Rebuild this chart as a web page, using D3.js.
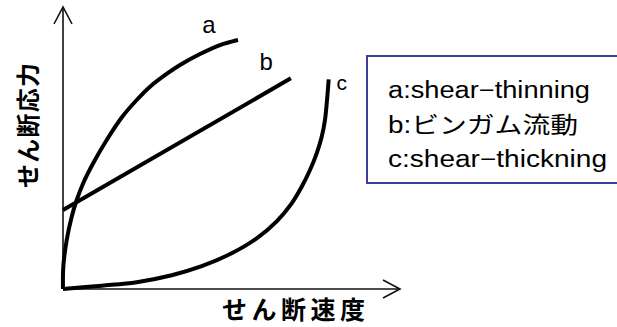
<!DOCTYPE html>
<html><head><meta charset="utf-8">
<script src="https://cdn.jsdelivr.net/npm/d3@7"></script>
<style>html,body{margin:0;padding:0;background:#fff;}svg{display:block;}</style>
</head><body>
<svg id="chart" width="617" height="327"></svg>
<script>
// Data (arbitrary units: shear rate 0..100, shear stress 0..100)
const seriesNames = ["a", "b", "c"];
const curveA_x = [0, 0.09, 1.10, 2.58, 4.07, 6.02, 8.99, 12.97, 17.42, 21.87, 25.82, 31.16, 34.72, 40.65, 46.59, 51.93];
const curveA_y = [0, 7.91, 17.38, 25.64, 31.56, 37.59, 44.68, 52.84, 60.82, 67.02, 71.74, 76.60, 79.43, 83.33, 86.52, 88.30];
const curveB_x = [0, 67.6];
const curveB_y = [28.0, 74.7];
const curveC_x = [0, 11.48, 21.87, 32.26, 41.16, 50.06, 57.48, 63.41, 67.86, 70.83, 73.29, 75.28, 76.77, 77.74, 78.43, 78.84];
const curveC_y = [0, 1.17, 2.41, 4.89, 8.09, 12.66, 17.98, 24.01, 30.39, 36.28, 42.20, 48.12, 54.01, 59.93, 68.19, 74.36];
const labelAnchorX = [43.3, 60.3, 82.7];
const labelAnchorY = [90.8, 77.5, 70.6];
const legendLabels = ["a:shear−thinning", "b:ビンガム流動", "c:shear−thickning"];
const xAxisTitle = "せん断速度";
const yAxisTitle = "せん断応力";

const svg = d3.select("#chart");
const x = d3.scaleLinear().domain([0, 100]).range([63, 400]);
const y = d3.scaleLinear().domain([0, 100]).range([289, 7]);

const latin = "'Liberation Sans', Arial, 'Noto Sans CJK JP', sans-serif";
const cjk = "'Noto Sans CJK JP', 'Noto Sans CJK SC', sans-serif";

// Axes with open arrowheads
const axes = svg.append("g").attr("stroke", "#111").attr("stroke-width", 1.6).attr("fill", "none");
axes.append("line").attr("x1", x(0)).attr("y1", y(0)).attr("x2", x(0)).attr("y2", y(100));
axes.append("path").attr("d", `M${x(0)-9},${y(100)+17} L${x(0)},${y(100)} L${x(0)+9},${y(100)+17}`);
axes.append("line").attr("x1", x(0)).attr("y1", y(0)).attr("x2", x(100)).attr("y2", y(0));
axes.append("path").attr("d", `M${x(100)-17},${y(0)-9} L${x(100)},${y(0)} L${x(100)-17},${y(0)+9}`);

// Curves
const line = d3.line().x(d => x(d[0])).y(d => y(d[1])).curve(d3.curveCatmullRom.alpha(0.5));
const curves = [
  d3.zip(curveA_x, curveA_y),
  d3.zip(curveB_x, curveB_y),
  d3.zip(curveC_x, curveC_y)
];
svg.append("g").selectAll("path").data(curves).join("path")
  .attr("d", line).attr("fill", "none").attr("stroke", "#000")
  .attr("stroke-width", 4).attr("stroke-linejoin", "round");

// Curve labels
svg.append("g").selectAll("text").data(seriesNames).join("text")
  .attr("x", (d, i) => x(labelAnchorX[i])).attr("y", (d, i) => y(labelAnchorY[i]))
  .attr("text-anchor", "middle").attr("font-family", latin).attr("font-size", (d, i) => i === 2 ? 21 : 24)
  .attr("fill", "#000").text(d => d);

// Axis titles
svg.append("text").attr("x", 222).attr("y", 319)
  .attr("font-family", cjk).attr("font-size", 25).attr("font-weight", "bold").attr("fill", "#000")
  .attr("textLength", 143).attr("lengthAdjust", "spacing").text(xAxisTitle);
svg.append("text").attr("transform", "translate(37,188) rotate(-90)")
  .attr("font-family", cjk).attr("font-size", 24).attr("font-weight", "bold").attr("fill", "#000")
  .attr("textLength", 125).attr("lengthAdjust", "spacing").text(yAxisTitle);

// Legend box
svg.append("rect").attr("x", 367).attr("y", 56).attr("width", 270).attr("height", 127)
  .attr("fill", "#fff").attr("stroke", "#3d3d9e").attr("stroke-width", 2);
const legendWidths = [202, 190, 219];
const legendBase = [98, 133, 167];
svg.append("g").selectAll("text").data(legendLabels).join("text")
  .attr("x", 388).attr("y", (d, i) => legendBase[i])
  .attr("font-family", latin).attr("font-size", 23).attr("fill", "#000")
  .attr("textLength", (d, i) => legendWidths[i]).attr("lengthAdjust", "spacingAndGlyphs")
  .text(d => d);
</script>
</body></html>
